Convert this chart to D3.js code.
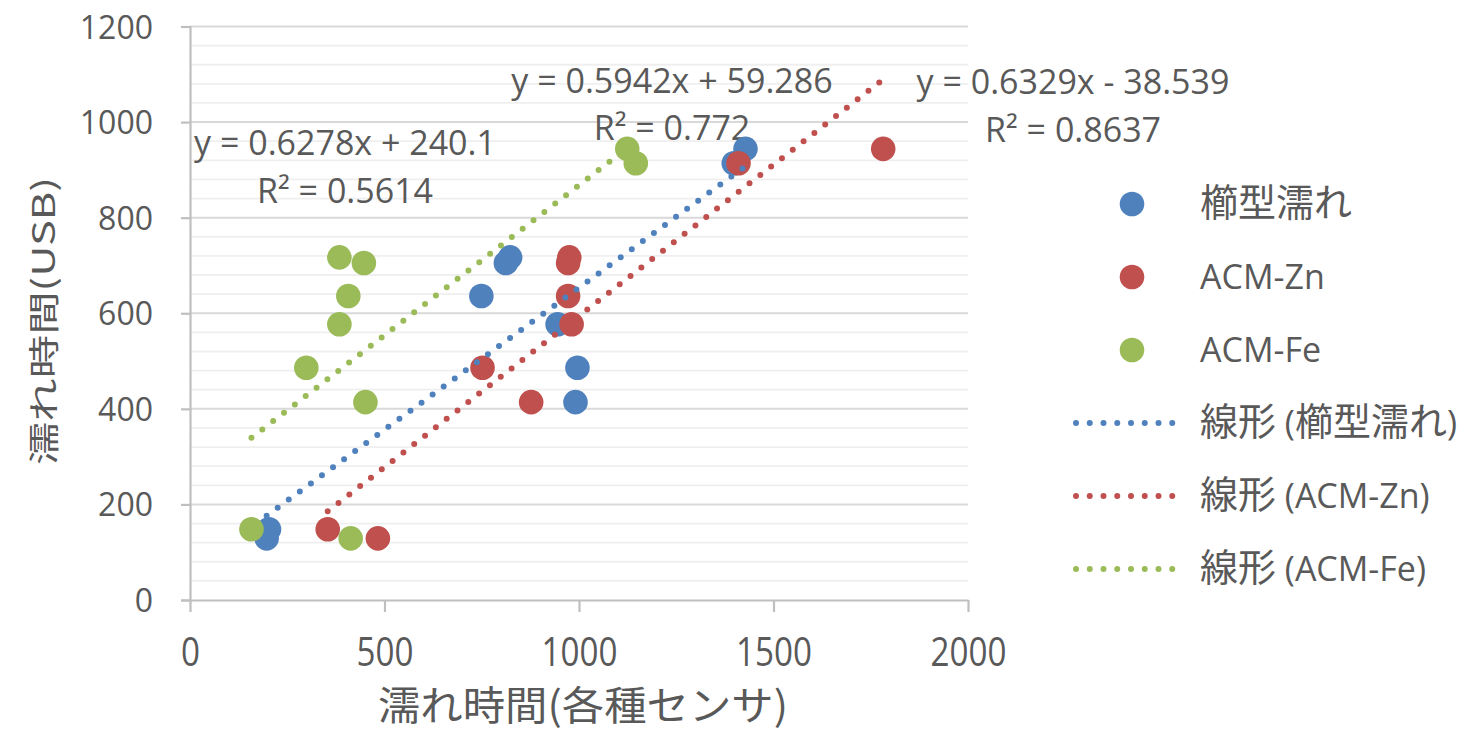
<!DOCTYPE html>
<html>
<head>
<meta charset="utf-8">
<script src="https://cdn.jsdelivr.net/npm/d3@7"></script>
<style>
  body { margin: 0; background: #fff; }
  text { fill: #595959; }
</style>
</head>
<body>
<div id="chart"></div>
<script>
// data
var seriesNames = ["櫛型濡れ", "ACM-Zn", "ACM-Fe"];
var trendNames = ["線形 (櫛型濡れ)", "線形 (ACM-Zn)", "線形 (ACM-Fe)"];
var usbTime = [944, 914, 717, 705, 636, 577, 486, 414, 148, 129];
var kushiX = [1428, 1398, 823, 812, 749, 945, 996, 991, 203, 197];
var znX = [1782, 1410, 975, 972, 972, 981, 752, 877, 354, 483];
var feX = [1124, 1146, 384, 447, 407, 384, 299, 451, 158, 413];
var slopes = [0.5942, 0.6329, 0.6278];
var intercepts = [59.286, -38.539, 240.1];
var eqLabels = ["y = 0.5942x + 59.286", "y = 0.6329x - 38.539", "y = 0.6278x + 240.1"];
var r2Labels = ["R² = 0.772", "R² = 0.8637", "R² = 0.5614"];
var xTicks = [0, 500, 1000, 1500, 2000];
var yTicks = [0, 200, 400, 600, 800, 1000, 1200];
var colors = ["#4f81bd", "#c0504d", "#9bbb59"];

var W = 1466, H = 735;
var svg = d3.select("#chart").append("svg")
    .attr("width", W).attr("height", H);

var x = d3.scaleLinear().domain([0, 2000]).range([190, 968]);
var y = d3.scaleLinear().domain([0, 1200]).range([600, 26.5]);

// gridlines (minor every 40, major every 200)
svg.append("g").selectAll("line")
  .data(d3.range(40, 1200, 40).filter(function(v) { return v % 200 != 0; }))
  .enter().append("line")
    .attr("x1", x(0)).attr("x2", x(2000))
    .attr("y1", function(d) { return y(d); })
    .attr("y2", function(d) { return y(d); })
    .attr("stroke", "#efefef").attr("stroke-width", 1.8);
svg.append("g").selectAll("line")
  .data(yTicks.slice(1))
  .enter().append("line")
    .attr("x1", x(0)).attr("x2", x(2000))
    .attr("y1", function(d) { return y(d); })
    .attr("y2", function(d) { return y(d); })
    .attr("stroke", "#d9d9d9").attr("stroke-width", 2);

// axes
var yAxis = svg.append("g")
    .attr("transform", "translate(" + x(0) + ",0)")
    .call(d3.axisLeft(y).tickValues(yTicks).tickFormat(d3.format("d"))
      .tickSize(9).tickPadding(28));
var xAxis = svg.append("g")
    .attr("transform", "translate(0," + y(0) + ")")
    .call(d3.axisBottom(x).tickValues(xTicks).tickFormat(d3.format("d"))
      .tickSize(12).tickSizeOuter(0));
[yAxis, xAxis].forEach(function(a) {
  a.select(".domain").attr("stroke", "#bfbfbf").attr("stroke-width", 2.2);
  a.selectAll(".tick line").attr("stroke", "#bfbfbf").attr("stroke-width", 2.2);
});
yAxis.selectAll(".tick text")
    .attr("font-family", "Open Sans").attr("font-size", 32)
    .attr("fill", "#595959")
    .attr("dy", null).attr("y", 11.5);
xAxis.selectAll(".tick text")
    .attr("font-family", "Open Sans").attr("font-size", 40)
    .attr("fill", "#595959")
    .attr("dy", null).attr("y", 66)
    .attr("transform", "scale(0.83,1)");

// text with cjk runs a bit larger than the latin ones
function mixedText(sel, str, latin, cjk) {
  str.split(/([\u3000-\u9fff\uff00-\uffef]+)/).forEach(function(part) {
    if (!part) return;
    var isCjk = /[\u3000-\u9fff\uff00-\uffef]/.test(part);
    sel.append("tspan")
      .attr("font-family", isCjk ? "Noto Sans CJK JP" : "Open Sans")
      .attr("font-size", isCjk ? cjk : latin)
      .text(part);
  });
}

// equation labels
var eqPos = [[672, 93, 140], [1073, 94, 142], [345, 155, 203]];
eqLabels.forEach(function(s, i) {
  var g = svg.append("g").attr("font-family", "Open Sans").attr("font-size", 34)
      .attr("text-anchor", "middle");
  g.append("text").attr("x", eqPos[i][0]).attr("y", eqPos[i][1]).text(s);
  g.append("text").attr("x", eqPos[i][0]).attr("y", eqPos[i][2]).text(r2Labels[i]);
});

// points
var xs = [kushiX, znX, feX];
xs.forEach(function(arr, i) {
  svg.append("g").selectAll("circle")
    .data(arr)
    .enter().append("circle")
      .attr("cx", function(d) { return x(d); })
      .attr("cy", function(d, j) { return y(usbTime[j]); })
      .attr("r", 12.3)
      .attr("fill", colors[i]);
});

// trendlines, dotted
xs.forEach(function(arr, i) {
  var ext = d3.extent(arr);
  var line = d3.line()
      .x(function(d) { return x(d); })
      .y(function(d) { return y(slopes[i] * d + intercepts[i]); });
  svg.append("path")
    .attr("d", line(ext))
    .attr("fill", "none")
    .attr("stroke", colors[i])
    .attr("stroke-width", 6)
    .attr("stroke-linecap", "round")
    .attr("stroke-dasharray", "0 13.7");
});

// legend
var legend = svg.append("g");
seriesNames.forEach(function(s, i) {
  var cy = 204 + i * 73;
  legend.append("circle").attr("cx", 1132).attr("cy", cy).attr("r", 12.3).attr("fill", colors[i]);
  var t = legend.append("text").attr("x", 1200).attr("y", cy + 12);
  mixedText(t, s, 34, 38);
});
trendNames.forEach(function(s, i) {
  var cy = 423 + i * 73;
  legend.append("line")
    .attr("x1", 1076).attr("x2", 1186)
    .attr("y1", cy).attr("y2", cy)
    .attr("stroke", colors[i]).attr("stroke-width", 6)
    .attr("stroke-linecap", "round")
    .attr("stroke-dasharray", "0 13.75");
  var t = legend.append("text").attr("x", 1200).attr("y", cy + 12);
  mixedText(t, s, 34, 38);
});

// axis titles
svg.append("text")
    .attr("x", 583).attr("y", 703)
    .attr("text-anchor", "middle").attr("dominant-baseline", "central")
    .attr("font-family", "Noto Sans CJK JP").attr("font-size", 40)
    .attr("transform", "translate(583,0) scale(1.06,1) translate(-583,0)")
    .text("濡れ時間(各種センサ)");
svg.append("g")
    .attr("transform", "translate(41,321) rotate(-90) scale(1.4,1)")
  .append("text")
    .attr("text-anchor", "middle").attr("dominant-baseline", "central")
    .attr("font-family", "Noto Sans CJK JP").attr("font-size", 31)
    .text("濡れ時間(USB)");
</script>
</body>
</html>
